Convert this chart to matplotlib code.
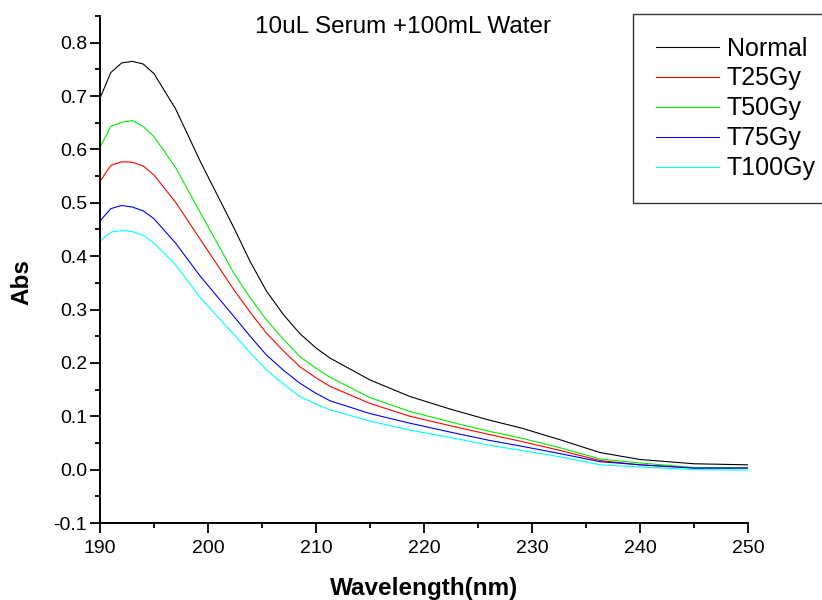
import matplotlib
matplotlib.use("Agg")
import matplotlib.pyplot as plt
from matplotlib.ticker import MultipleLocator

plt.rcParams["font.family"] = ["Liberation Sans", "DejaVu Sans"]

# wavelengths (nm)
wavelength = [190, 191, 192, 193, 194, 195, 197, 199.3, 202.4, 203.9, 205.4, 207, 208.5, 210,
              211.3, 215, 218.7, 222.5, 226, 229, 232.6, 236.3, 240, 245, 250]

normal = [0.696, 0.744, 0.762, 0.765, 0.760, 0.742, 0.676, 0.577, 0.453, 0.390, 0.335, 0.290,
          0.255, 0.228, 0.209, 0.168, 0.137, 0.113, 0.093, 0.078, 0.056, 0.032, 0.019, 0.011, 0.009]
t25 = [0.540, 0.570, 0.577, 0.576, 0.569, 0.552, 0.501, 0.431, 0.337, 0.295, 0.256, 0.222,
       0.193, 0.172, 0.156, 0.124, 0.100, 0.082, 0.066, 0.053, 0.036, 0.017, 0.009, 0.003, 0.003]
t50 = [0.604, 0.643, 0.651, 0.654, 0.643, 0.624, 0.566, 0.481, 0.368, 0.322, 0.281, 0.244,
       0.212, 0.190, 0.173, 0.135, 0.109, 0.089, 0.072, 0.059, 0.041, 0.020, 0.0125, 0.004, 0.003]
t75 = [0.466, 0.489, 0.495, 0.492, 0.485, 0.470, 0.4245, 0.362, 0.287, 0.250, 0.215, 0.186,
       0.162, 0.143, 0.129, 0.105, 0.087, 0.070, 0.055, 0.044, 0.030, 0.015, 0.009, 0.003, 0.003]
t100 = [0.428, 0.445, 0.448, 0.446, 0.439, 0.4245, 0.384, 0.322, 0.253, 0.219, 0.187, 0.160,
        0.137, 0.123, 0.112, 0.091, 0.074, 0.060, 0.046, 0.036, 0.024, 0.009, 0.005, 0.000, -0.001]

labels = ["Normal", "T25Gy", "T50Gy", "T75Gy", "T100Gy"]
series = [normal, t25, t50, t75, t100]
colors = ["black", "red", "#00ee00", "blue", "cyan"]

fig = plt.figure(figsize=(8.22, 6.0), dpi=100)
ax = fig.add_axes([100 / 822, 1 - 523 / 600, 648 / 822, (523 - 16) / 600])

for y, lab, c in zip(series, labels, colors):
    ax.plot(wavelength, y, color=c, lw=0.8, label=lab)

ax.set_xlim(190, 250)
ax.set_ylim(-0.1, 0.85)
ax.xaxis.set_major_locator(MultipleLocator(10))
ax.xaxis.set_minor_locator(MultipleLocator(5))
ax.yaxis.set_minor_locator(MultipleLocator(0.05))
ax.set_yticks([-0.1, 0.0, 0.1, 0.2, 0.3, 0.4, 0.5, 0.6, 0.7, 0.8])
ax.set_yticklabels(["-0.1", "0.0", "0.1", "0.2", "0.3", "0.4", "0.5", "0.6", "0.7", "0.8"])

ax.spines["top"].set_visible(False)
ax.spines["right"].set_visible(False)
ax.spines["left"].set_linewidth(1.4)
ax.spines["bottom"].set_linewidth(1.4)
ax.tick_params(which="major", direction="out", length=7.2, width=1.3, labelsize=14)
ax.tick_params(which="minor", direction="out", length=3.6, width=1.3)
ax.tick_params(axis="x", which="major", pad=5)
ax.tick_params(axis="y", which="major", pad=2)

fig.text(424 / 822, 1 - 595 / 600, "Wavelength(nm)", fontsize=17.5, fontweight="bold",
         ha="center", va="baseline")
fig.text(22 / 822, 1 - 282 / 600, "Abs", fontsize=17.5, fontweight="bold",
         ha="center", va="center", rotation=90)
fig.text(403 / 822, 1 - 33 / 600, "10uL Serum +100mL Water", fontsize=17.5,
         ha="center", va="baseline")

leg = fig.legend(loc="upper left", bbox_to_anchor=(633 / 822, 1 - 14 / 600),
                 borderaxespad=0, fontsize=18, frameon=True, fancybox=False,
                 handlelength=2.55, handletextpad=0.3, labelspacing=0.24,
                 borderpad=0.9)
leg.get_frame().set_edgecolor("black")
leg.get_frame().set_linewidth(1.0)

fig.savefig("out.png", dpi=100)
